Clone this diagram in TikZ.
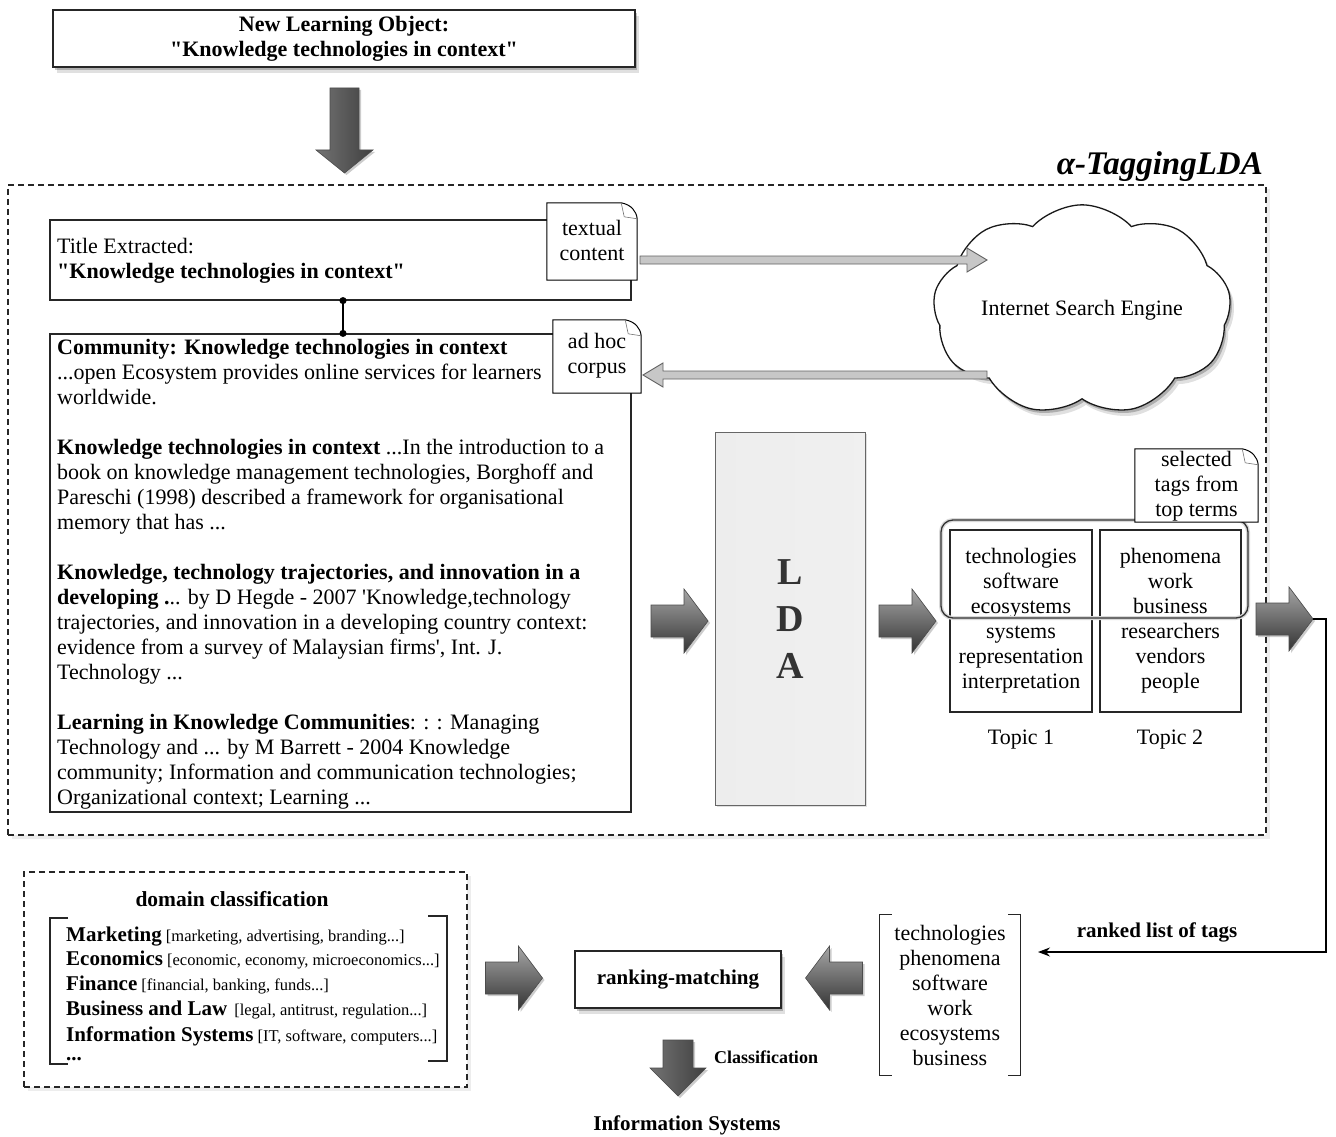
\documentclass[tikz,border=0pt]{standalone}
\usepackage{fontspec}
\setmainfont{Liberation Serif}
\usetikzlibrary{shapes.symbols,shadows,arrows.meta,calc}
\newcommand{\myfs}{\fontsize{22}{25}\selectfont}
\newcommand{\mybf}{\bfseries\fontsize{21}{25}\selectfont}
\newcommand{\smfs}{\fontsize{16.5}{20}\selectfont}
\newcommand{\dognote}[1]{%
  \draw[line width=1pt, fill=white] (#1.north west) -- ([xshift=-16pt]#1.north east) .. controls ([xshift=-6pt,yshift=-2pt]#1.north east) and ([xshift=-1pt,yshift=-8pt]#1.north east) .. ([yshift=-16pt]#1.north east) -- (#1.south east) -- (#1.south west) -- cycle;
  \draw[line width=0.6pt, black!55] ([xshift=-16pt]#1.north east) -- ([xshift=-13pt,yshift=-14pt]#1.north east) -- ([yshift=-16pt]#1.north east);}
\begin{document}
\begin{tikzpicture}[x=1pt,y=-1pt,
  box/.style={draw=black!85, line width=1.2pt, fill=white, inner sep=0pt},
  softshadow/.style={drop shadow={shadow xshift=2pt, shadow yshift=-3pt, opacity=0.22, fill=black}, drop shadow={shadow xshift=4pt, shadow yshift=-6pt, opacity=0.12, fill=black}},
  lightshadow/.style={drop shadow={shadow xshift=4pt, shadow yshift=-4pt, opacity=0.07, fill=black}},
  fatshade/.style={draw=black!70, line width=0.6pt, top color=black!35, bottom color=black!80, drop shadow={shadow xshift=2pt, shadow yshift=-2pt, opacity=0.2, fill=black}},
  fatshadev/.style={draw=black!70, line width=0.6pt, left color=black!55, middle color=black!32, right color=black!75, drop shadow={shadow xshift=2pt, shadow yshift=-2pt, opacity=0.2, fill=black}},
  thinarr/.style={fill=black!22, draw=black!62, line width=0.9pt},
  brk/.style={line width=1.3pt, draw=black!85},
  fatr/.pic={\path[fatshade] (-28.5,-16) -- (4.5,-16) -- (4.5,-32) -- (28.5,0) -- (4.5,32) -- (4.5,16) -- (-28.5,16) -- cycle;},
  fatl/.pic={\path[fatshade] (28.5,-16) -- (-4.5,-16) -- (-4.5,-32) -- (-28.5,0) -- (-4.5,32) -- (-4.5,16) -- (28.5,16) -- cycle;}
]
\useasboundingbox (0,0) rectangle (1336,1137);
\fill[white] (0,0) rectangle (1336,1137);

% top learning object
\node[box, line width=1.6pt, minimum width=582pt, minimum height=57pt, align=center, font=\bfseries\myfs, softshadow] (lo) at (344,38.5) {New Learning Object:\\\textquotedbl Knowledge technologies in context\textquotedbl};
\path[fatshadev] (330,88) -- (359,88) -- (359,150) -- (373,150) -- (344.5,173) -- (316,150) -- (330,150) -- cycle;

% alpha-TaggingLDA frame
\node[draw=black!85, dash pattern=on 6pt off 4pt, line width=1.2pt, fill=white, minimum width=1258pt, minimum height=650pt, inner sep=0, lightshadow] (alpha) at (637,510) {};
\node[anchor=base east, inner sep=0, font=\bfseries\itshape\fontsize{33}{38}\selectfont] (alphattl) at (1263,175) {α-TaggingLDA};

% title box
\node[box, minimum width=581pt, minimum height=80pt] (title) at (340.5,260) {};
\node[anchor=north west, inner sep=0, align=left, font=\myfs] (titletxt) at (57,235.5) {\strut Title Extracted:\\\textbf{\textquotedbl Knowledge technologies in context\textquotedbl}};

% corpus box
\node[box, minimum width=581pt, minimum height=478pt] (corpus) at (340.5,573) {};
\node[anchor=north west, inner sep=0, align=left, font=\myfs] (corpustxt) at (57,336.5) {\strut\textbf{Community: Knowledge technologies in context}\\
...open Ecosystem provides online services for learners\\
worldwide.\\[25pt]
\textbf{Knowledge technologies in context} ...In the introduction to a\\
book on knowledge management technologies, Borghoff and\\
Pareschi (1998) described a framework for organisational\\
memory that has ...\\[25pt]
\textbf{Knowledge, technology trajectories, and innovation in a}\\
\textbf{developing .}.. by D Hegde - 2007 \textquotesingle Knowledge,technology\\
trajectories, and innovation in a developing country context:\\
evidence from a survey of Malaysian firms\textquotesingle, Int. J.\\
Technology ...\\[25pt]
\textbf{Learning in Knowledge Communities}: : : Managing\\
Technology and ... by M Barrett - 2004 Knowledge\\
community; Information and communication technologies;\\
Organizational context; Learning ...};

\draw[line width=1.2pt, {Circle[length=7pt]}-{Circle[length=7pt]}, shorten <=-3.5pt, shorten >=-3.5pt] ([xshift=2.5pt]title.south) -- ([xshift=2.5pt]corpus.north);

% notes
\node[minimum width=90pt, minimum height=77pt, inner sep=0] (nt) at (592,241.5) {};
\dognote{nt}
\node[align=center, font=\myfs, inner sep=0] (ntt) at (592,240) {textual\\content};
\node[minimum width=88pt, minimum height=73pt, inner sep=0] (na) at (597,356.5) {};
\dognote{na}
\node[align=center, font=\myfs, inner sep=0] (nat) at (597,356) {ad hoc\\corpus};

% cloud
\node[cloud, cloud puffs=9, cloud puff arc=95, aspect=1.6, draw=black!90, line width=1.3pt, fill=white, minimum width=298pt, minimum height=200pt, inner sep=0, font=\myfs, softshadow] (cloud) at (1082,310) {Internet Search Engine};

% thin arrows
\coordinate (ta) at (640,260);
\coordinate (tb) at (987,260);
\coordinate (ca) at (987,375);
\coordinate (cb) at (643,375);
\path[thinarr] let \p1=(ta), \p2=(tb) in (\x1,\y1+4pt) -- (\x2-20pt,\y1+4pt) -- (\x2-20pt,\y1+12pt) -- (\x2,\y1) -- (\x2-20pt,\y1-12pt) -- (\x2-20pt,\y1-4pt) -- (\x1,\y1-4pt) -- cycle;
\path[thinarr] let \p1=(ca), \p2=(cb) in (\x1,\y1+4pt) -- (\x2+20pt,\y1+4pt) -- (\x2+20pt,\y1+12pt) -- (\x2,\y1) -- (\x2+20pt,\y1-12pt) -- (\x2+20pt,\y1-4pt) -- (\x1,\y1-4pt) -- cycle;

% LDA
\node[draw=black!60, line width=1pt, minimum width=150pt, minimum height=373pt, inner sep=0, left color=black!7, middle color=white, right color=black!6, drop shadow={shadow xshift=2pt, shadow yshift=-2pt, opacity=0.12, fill=black}] (lda) at (790,618.5) {};
\node[font=\bfseries\fontsize{38}{47}\selectfont, align=center, text=black!80, inner sep=0] (ldat) at (790,619.5) {L\\D\\A};

% fat arrows
\pic at (679.5,621) {fatr};
\pic at (907.5,621) {fatr};

% topics
\node[box, minimum width=142pt, minimum height=182pt, align=center, font=\myfs] (t1) at (1021,621) {technologies\\software\\ecosystems\\systems\\representation\\interpretation};
\node[box, minimum width=141pt, minimum height=182pt, align=center, font=\myfs] (t2) at (1170.5,621) {phenomena\\work\\business\\researchers\\vendors\\people};
\draw[line width=4pt, black!15, rounded corners=12pt] (941,520) rectangle (1248,618);
\draw[line width=1.3pt, black!80, rounded corners=12pt] (941,520) rectangle (1248,618);
\node[font=\myfs] (t1l) at (1021,740) {Topic 1};
\node[font=\myfs] (t2l) at (1170,740) {Topic 2};

\node[minimum width=123pt, minimum height=73pt, inner sep=0] (ns) at (1196.5,485.5) {};
\dognote{ns}
\node[align=center, font=\myfs, inner sep=0] (nst) at (1196.5,486) {selected\\tags from\\top terms};

\pic at (1284.5,619) {fatr};
\coordinate (a3tip) at (1313,619);

% ranked list
\node[minimum width=140pt, minimum height=160pt, align=center, font=\myfs, inner sep=0] (rl) at (950,995) {technologies\\phenomena\\software\\work\\ecosystems\\business};
\draw[brk] ([xshift=12pt]rl.north west) -- (rl.north west) -- (rl.south west) -- ([xshift=12pt]rl.south west);
\draw[brk] ([xshift=-12pt]rl.north east) -- (rl.north east) -- (rl.south east) -- ([xshift=-12pt]rl.south east);
\coordinate (rlend) at (1038,952);
\draw[line width=1.2pt, -{Stealth[length=12pt, width=9pt]}] (a3tip) -- ++(13,0) |- (rlend);
\node[font=\mybf] (rltl) at (1157,932) {ranked list of tags};

% ranking-matching
\node[box, line width=1.6pt, minimum width=206pt, minimum height=57pt, font=\mybf, softshadow] (rm) at (678,979.5) {ranking-matching};
\pic at (514,978) {fatr};
\pic at (834,978) {fatl};
\path[fatshadev] (663,1040) -- (693,1040) -- (693,1068) -- (706,1068) -- (678,1096) -- (650,1068) -- (663,1068) -- cycle;
\node[font=\bfseries\fontsize{18}{21}\selectfont] (cls) at (766,1057) {Classification};
\node[font=\bfseries\fontsize{21}{24}\selectfont] (res) at (687,1125) {Information Systems};

% domain classification
\node[draw=black!85, dash pattern=on 6pt off 4pt, line width=1.2pt, fill=white, minimum width=443pt, minimum height=215pt, inner sep=0, lightshadow] (dom) at (245.5,979.5) {};
\node[font=\bfseries\fontsize{21.5}{24}\selectfont] (domt) at (232,899) {domain classification};
\draw[brk] (68,918) -- (50,918) -- (50,1064) -- (68,1064);
\draw[brk] (428,916) -- (447,916) -- (447,1061) -- (428,1061);
\node[anchor=base west, inner sep=0, font=\smfs] (d1) at (66,941) {{\mybf Marketing} [marketing, advertising, branding...]};
\node[anchor=base west, inner sep=0, font=\smfs] (d2) at (66,965) {{\mybf Economics} [economic, economy, microeconomics...]};
\node[anchor=base west, inner sep=0, font=\smfs] (d3) at (66,990) {{\mybf Finance} [financial, banking, funds...]};
\node[anchor=base west, inner sep=0, font=\smfs] (d4) at (66,1015) {{\mybf Business and Law}\hspace{7pt}[legal, antitrust, regulation...]};
\node[anchor=base west, inner sep=0, font=\smfs] (d5) at (66,1041) {{\mybf Information Systems} [IT, software, computers...]};
\node[anchor=base west, inner sep=0, font=\mybf] (d6) at (66,1060) {...};
\end{tikzpicture}
\end{document}
